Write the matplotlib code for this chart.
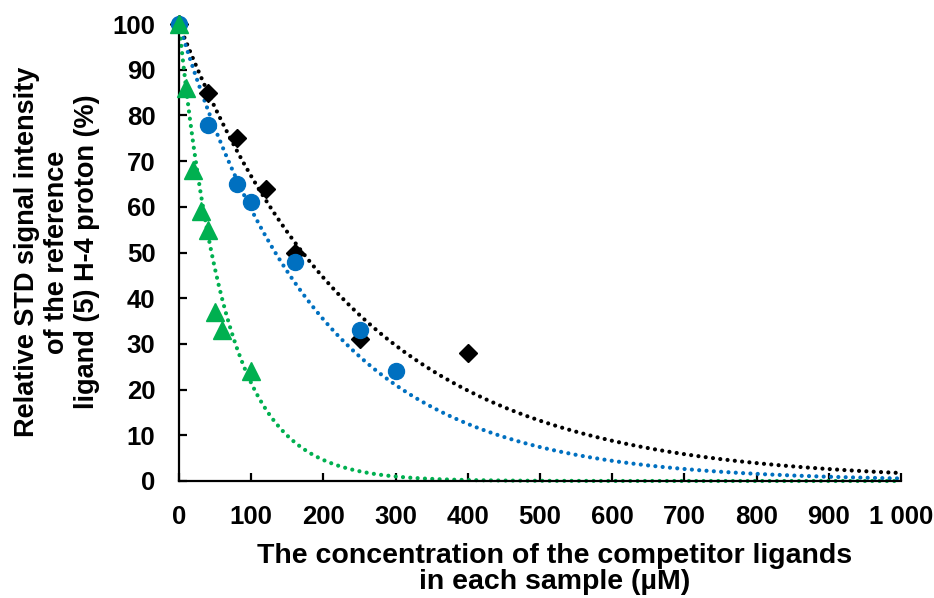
import numpy as np
import matplotlib
matplotlib.use("Agg")
import matplotlib.pyplot as plt
from matplotlib.ticker import FuncFormatter, MultipleLocator

plt.rcParams['font.family'] = ['Liberation Sans', 'DejaVu Sans']
plt.rcParams['font.weight'] = 'bold'

# Data (concentration in µM, relative STD intensity in %)
black_x = [0, 40, 80, 120, 160, 250, 400]
black_y = [100, 85, 75, 64, 50, 31, 28]
blue_x = [0, 40, 80, 100, 160, 250, 300]
blue_y = [100, 78, 65, 61, 48, 33, 24]
green_x = [0, 10, 20, 30, 40, 50, 60, 100]
green_y = [100, 86, 68, 59, 55, 37, 33, 24]

# Exponential trendline parameters (y = a * exp(-k x))
trend_a = [100, 100, 100]
trend_k = [0.00405, 0.0052, 0.0154]

colors = ['#000000', '#0070C0', '#00B050']

fig = plt.figure(figsize=(9.34, 5.98), dpi=100)
ax = fig.add_axes([179/934, 1-481/598, (901-179)/934, (481-24)/598])

xt = np.linspace(0, 1000, 400)
for a, k, c in zip(trend_a, trend_k, colors):
    ax.plot(xt, a*np.exp(-k*xt), color=c, lw=3.0, linestyle=(0, (0.01, 1.75)),
            dash_capstyle='round', zorder=2, clip_on=False)

ax.plot(black_x, black_y, linestyle='none', marker='D', ms=9.5, color=colors[0], zorder=3, clip_on=False)
ax.plot(blue_x, blue_y, linestyle='none', marker='o', ms=11.5, color=colors[1], zorder=4, clip_on=False)
ax.plot(green_x, green_y, linestyle='none', marker='^', ms=12.5, color=colors[2], zorder=5, clip_on=False)

ax.set_xlim(0, 1000)
ax.set_ylim(0, 100)
ax.xaxis.set_major_locator(MultipleLocator(100))
ax.yaxis.set_major_locator(MultipleLocator(10))
ax.xaxis.set_major_formatter(FuncFormatter(lambda v, p: f"{int(v):,}".replace(",", " ")))
for s in ['top', 'right']:
    ax.spines[s].set_visible(False)
for s in ['left', 'bottom']:
    ax.spines[s].set_linewidth(1.6)
ax.tick_params(axis='both', direction='in', length=6, width=1.6, labelsize=18.5)
ax.tick_params(axis='x', pad=17)
ax.tick_params(axis='y', pad=17)

fig.text(555/934, 1-569/598, "The concentration of the competitor ligands\nin each sample (µM)",
         ha='center', va='center', fontsize=20.5, fontweight='bold', linespacing=1.03)
fig.text(57/934, 1-252/598, "Relative STD signal intensity\nof the reference\nligand (5) H-4 proton (%)",
         ha='center', va='center', rotation=90, fontsize=19.5, fontweight='bold', linespacing=1.2)

fig.savefig("out.png", dpi=100)
